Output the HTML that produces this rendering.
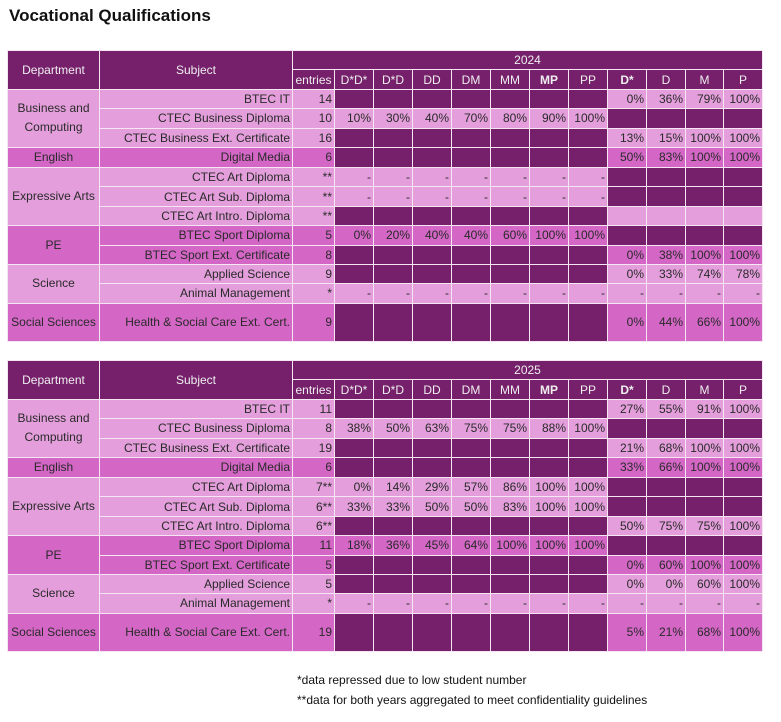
<!DOCTYPE html>
<html><head><meta charset="utf-8"><style>
body{margin:0;width:781px;height:722px;background:#fff;font-family:"Liberation Sans",sans-serif;position:relative;overflow:hidden}
h1{position:absolute;left:9px;top:6px;margin:0;font-size:17px;font-weight:bold;color:#111}
table{position:absolute;left:7px;border-collapse:collapse;table-layout:fixed;width:755px;font-size:12px;color:#2a2a2a}
td,th{border:1.5px solid #f6e6f3;padding:0 2px;height:18.4px;text-align:right;white-space:nowrap;overflow:hidden}
th{background:#76206b;color:#eee;font-weight:normal;text-align:center}
.d{background:#76206b}
.l td{background:#e39edb}
.m td{background:#d466c6}
.l td.d,.m td.d{background:#76206b}
td.c{text-align:center;white-space:normal;line-height:19px}
.b{font-weight:bold}
.tall td{height:37.5px}
.n{position:absolute;left:297px;font-size:12px;color:#111}
</style></head><body>
<h1>Vocational Qualifications</h1>

<table style="top:50px">
<colgroup><col style="width:92px"><col style="width:193px"><col style="width:42px"><col style="width:39px"><col style="width:39px"><col style="width:39px"><col style="width:39px"><col style="width:39px"><col style="width:39px"><col style="width:39px"><col style="width:39px"><col style="width:39px"><col style="width:38px"><col style="width:39px"></colgroup>
<tr><th rowspan="2">Department</th><th rowspan="2">Subject</th><th colspan="12">2024</th></tr>
<tr><th>entries</th><th>D*D*</th><th>D*D</th><th>DD</th><th>DM</th><th>MM</th><th class="b">MP</th><th>PP</th><th class="b">D*</th><th>D</th><th>M</th><th>P</th></tr>
<tr class="l"><td rowspan="3" class="c">Business and Computing</td><td>BTEC IT</td><td>14</td><td class="d"></td><td class="d"></td><td class="d"></td><td class="d"></td><td class="d"></td><td class="d"></td><td class="d"></td><td>0%</td><td>36%</td><td>79%</td><td>100%</td></tr>
<tr class="l"><td>CTEC Business Diploma</td><td>10</td><td>10%</td><td>30%</td><td>40%</td><td>70%</td><td>80%</td><td>90%</td><td>100%</td><td class="d"></td><td class="d"></td><td class="d"></td><td class="d"></td></tr>
<tr class="l"><td>CTEC Business Ext. Certificate</td><td>16</td><td class="d"></td><td class="d"></td><td class="d"></td><td class="d"></td><td class="d"></td><td class="d"></td><td class="d"></td><td>13%</td><td>15%</td><td>100%</td><td>100%</td></tr>
<tr class="m"><td class="c">English</td><td>Digital Media</td><td>6</td><td class="d"></td><td class="d"></td><td class="d"></td><td class="d"></td><td class="d"></td><td class="d"></td><td class="d"></td><td>50%</td><td>83%</td><td>100%</td><td>100%</td></tr>
<tr class="l"><td rowspan="3" class="c">Expressive Arts</td><td>CTEC Art Diploma</td><td>**</td><td>-</td><td>-</td><td>-</td><td>-</td><td>-</td><td>-</td><td>-</td><td class="d"></td><td class="d"></td><td class="d"></td><td class="d"></td></tr>
<tr class="l"><td>CTEC Art Sub. Diploma</td><td>**</td><td>-</td><td>-</td><td>-</td><td>-</td><td>-</td><td>-</td><td>-</td><td class="d"></td><td class="d"></td><td class="d"></td><td class="d"></td></tr>
<tr class="l"><td>CTEC Art Intro. Diploma</td><td>**</td><td class="d"></td><td class="d"></td><td class="d"></td><td class="d"></td><td class="d"></td><td class="d"></td><td class="d"></td><td></td><td></td><td></td><td></td></tr>
<tr class="m"><td rowspan="2" class="c">PE</td><td>BTEC Sport Diploma</td><td>5</td><td>0%</td><td>20%</td><td>40%</td><td>40%</td><td>60%</td><td>100%</td><td>100%</td><td class="d"></td><td class="d"></td><td class="d"></td><td class="d"></td></tr>
<tr class="m"><td>BTEC Sport Ext. Certificate</td><td>8</td><td class="d"></td><td class="d"></td><td class="d"></td><td class="d"></td><td class="d"></td><td class="d"></td><td class="d"></td><td>0%</td><td>38%</td><td>100%</td><td>100%</td></tr>
<tr class="l"><td rowspan="2" class="c">Science</td><td>Applied Science</td><td>9</td><td class="d"></td><td class="d"></td><td class="d"></td><td class="d"></td><td class="d"></td><td class="d"></td><td class="d"></td><td>0%</td><td>33%</td><td>74%</td><td>78%</td></tr>
<tr class="l"><td>Animal Management</td><td>*</td><td>-</td><td>-</td><td>-</td><td>-</td><td>-</td><td>-</td><td>-</td><td>-</td><td>-</td><td>-</td><td>-</td></tr>
<tr class="m tall"><td class="c">Social Sciences</td><td>Health &amp; Social Care Ext. Cert.</td><td>9</td><td class="d"></td><td class="d"></td><td class="d"></td><td class="d"></td><td class="d"></td><td class="d"></td><td class="d"></td><td>0%</td><td>44%</td><td>66%</td><td>100%</td></tr>
</table>

<table style="top:360px">
<colgroup><col style="width:92px"><col style="width:193px"><col style="width:42px"><col style="width:39px"><col style="width:39px"><col style="width:39px"><col style="width:39px"><col style="width:39px"><col style="width:39px"><col style="width:39px"><col style="width:39px"><col style="width:39px"><col style="width:38px"><col style="width:39px"></colgroup>
<tr><th rowspan="2">Department</th><th rowspan="2">Subject</th><th colspan="12">2025</th></tr>
<tr><th>entries</th><th>D*D*</th><th>D*D</th><th>DD</th><th>DM</th><th>MM</th><th class="b">MP</th><th>PP</th><th class="b">D*</th><th>D</th><th>M</th><th>P</th></tr>
<tr class="l"><td rowspan="3" class="c">Business and Computing</td><td>BTEC IT</td><td>11</td><td class="d"></td><td class="d"></td><td class="d"></td><td class="d"></td><td class="d"></td><td class="d"></td><td class="d"></td><td>27%</td><td>55%</td><td>91%</td><td>100%</td></tr>
<tr class="l"><td>CTEC Business Diploma</td><td>8</td><td>38%</td><td>50%</td><td>63%</td><td>75%</td><td>75%</td><td>88%</td><td>100%</td><td class="d"></td><td class="d"></td><td class="d"></td><td class="d"></td></tr>
<tr class="l"><td>CTEC Business Ext. Certificate</td><td>19</td><td class="d"></td><td class="d"></td><td class="d"></td><td class="d"></td><td class="d"></td><td class="d"></td><td class="d"></td><td>21%</td><td>68%</td><td>100%</td><td>100%</td></tr>
<tr class="m"><td class="c">English</td><td>Digital Media</td><td>6</td><td class="d"></td><td class="d"></td><td class="d"></td><td class="d"></td><td class="d"></td><td class="d"></td><td class="d"></td><td>33%</td><td>66%</td><td>100%</td><td>100%</td></tr>
<tr class="l"><td rowspan="3" class="c">Expressive Arts</td><td>CTEC Art Diploma</td><td>7**</td><td>0%</td><td>14%</td><td>29%</td><td>57%</td><td>86%</td><td>100%</td><td>100%</td><td class="d"></td><td class="d"></td><td class="d"></td><td class="d"></td></tr>
<tr class="l"><td>CTEC Art Sub. Diploma</td><td>6**</td><td>33%</td><td>33%</td><td>50%</td><td>50%</td><td>83%</td><td>100%</td><td>100%</td><td class="d"></td><td class="d"></td><td class="d"></td><td class="d"></td></tr>
<tr class="l"><td>CTEC Art Intro. Diploma</td><td>6**</td><td class="d"></td><td class="d"></td><td class="d"></td><td class="d"></td><td class="d"></td><td class="d"></td><td class="d"></td><td>50%</td><td>75%</td><td>75%</td><td>100%</td></tr>
<tr class="m"><td rowspan="2" class="c">PE</td><td>BTEC Sport Diploma</td><td>11</td><td>18%</td><td>36%</td><td>45%</td><td>64%</td><td>100%</td><td>100%</td><td>100%</td><td class="d"></td><td class="d"></td><td class="d"></td><td class="d"></td></tr>
<tr class="m"><td>BTEC Sport Ext. Certificate</td><td>5</td><td class="d"></td><td class="d"></td><td class="d"></td><td class="d"></td><td class="d"></td><td class="d"></td><td class="d"></td><td>0%</td><td>60%</td><td>100%</td><td>100%</td></tr>
<tr class="l"><td rowspan="2" class="c">Science</td><td>Applied Science</td><td>5</td><td class="d"></td><td class="d"></td><td class="d"></td><td class="d"></td><td class="d"></td><td class="d"></td><td class="d"></td><td>0%</td><td>0%</td><td>60%</td><td>100%</td></tr>
<tr class="l"><td>Animal Management</td><td>*</td><td>-</td><td>-</td><td>-</td><td>-</td><td>-</td><td>-</td><td>-</td><td>-</td><td>-</td><td>-</td><td>-</td></tr>
<tr class="m tall"><td class="c">Social Sciences</td><td>Health &amp; Social Care Ext. Cert.</td><td>19</td><td class="d"></td><td class="d"></td><td class="d"></td><td class="d"></td><td class="d"></td><td class="d"></td><td class="d"></td><td>5%</td><td>21%</td><td>68%</td><td>100%</td></tr>
</table>

<div class="n" style="top:673px">*data repressed due to low student number</div>
<div class="n" style="top:693px">**data for both years aggregated to meet confidentiality guidelines</div>
</body></html>
